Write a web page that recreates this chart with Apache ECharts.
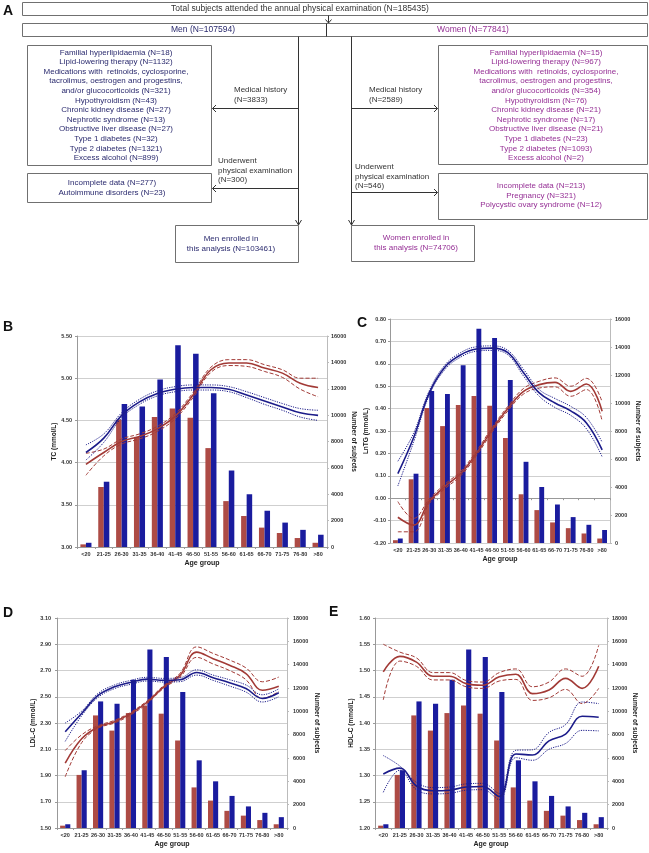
<!DOCTYPE html>
<html><head><meta charset="utf-8">
<script src="https://cdn.jsdelivr.net/npm/echarts/dist/echarts.min.js"></script>
<style>html,body{margin:0;padding:0;background:#fff}#c{width:649px;height:853px}</style>
</head><body><div id="c"></div>
<script>
// ---------- DATA ----------
const ageGroups = ['<20','21-25','26-30','31-35','36-40','41-45','46-50','51-55','56-60','61-65','66-70','71-75','76-80','>80'];
const womenCounts = [200, 4550, 9650, 8350, 9850, 10500, 9800, 7500, 3480, 2350, 1470, 1060, 680, 320];
const menCounts   = [320, 4950, 10850, 10650, 12700, 15300, 14650, 11650, 5800, 4000, 2750, 1850, 1300, 930];

// B: TC (mmol/L)
const tcMenMean    = [4.12, 4.29, 4.56, 4.72, 4.82, 4.87, 4.89, 4.89, 4.87, 4.80, 4.73, 4.66, 4.59, 4.56];
const tcMenUpper   = [4.21, 4.34, 4.59, 4.75, 4.85, 4.90, 4.92, 4.92, 4.90, 4.84, 4.77, 4.70, 4.64, 4.62];
const tcMenLower   = [4.03, 4.24, 4.53, 4.69, 4.79, 4.84, 4.86, 4.86, 4.84, 4.77, 4.69, 4.62, 4.54, 4.50];
const tcWomenMean  = [3.98, 4.12, 4.25, 4.31, 4.40, 4.55, 4.80, 5.10, 5.18, 5.18, 5.12, 5.06, 4.94, 4.89];
const tcWomenUpper = [4.11, 4.16, 4.28, 4.34, 4.43, 4.58, 4.83, 5.13, 5.22, 5.22, 5.16, 5.10, 5.00, 5.00];
const tcWomenLower = [3.85, 4.08, 4.22, 4.28, 4.37, 4.52, 4.77, 5.07, 5.15, 5.14, 5.08, 5.01, 4.87, 4.78];

// C: LnTG (mmol/L)
const tgMenMean    = [0.110, 0.270, 0.470, 0.586, 0.640, 0.666, 0.670, 0.650, 0.560, 0.470, 0.425, 0.390, 0.336, 0.216];
const tgMenUpper   = [0.165, 0.290, 0.480, 0.595, 0.650, 0.676, 0.680, 0.660, 0.575, 0.485, 0.445, 0.410, 0.360, 0.250];
const tgMenLower   = [0.055, 0.250, 0.460, 0.575, 0.630, 0.656, 0.660, 0.640, 0.545, 0.455, 0.405, 0.370, 0.310, 0.185];
const tgWomenMean  = [-0.085, -0.120, -0.014, 0.053, 0.110, 0.200, 0.306, 0.400, 0.477, 0.507, 0.517, 0.477, 0.510, 0.388];
const tgWomenUpper = [-0.015, -0.090, -0.004, 0.063, 0.120, 0.210, 0.316, 0.410, 0.490, 0.522, 0.537, 0.500, 0.535, 0.430];
const tgWomenLower = [-0.150, -0.150, -0.024, 0.043, 0.100, 0.190, 0.296, 0.390, 0.465, 0.492, 0.497, 0.455, 0.485, 0.345];

// D: LDL-C (mmol/L)
const ldlMenMean    = [2.234, 2.373, 2.510, 2.576, 2.610, 2.634, 2.626, 2.630, 2.685, 2.645, 2.606, 2.563, 2.487, 2.530];
const ldlMenUpper   = [2.300, 2.390, 2.525, 2.590, 2.625, 2.648, 2.640, 2.645, 2.705, 2.665, 2.630, 2.590, 2.515, 2.560];
const ldlMenLower   = [2.160, 2.355, 2.495, 2.562, 2.595, 2.620, 2.612, 2.615, 2.665, 2.625, 2.582, 2.536, 2.460, 2.500];
const ldlWomenMean  = [1.994, 2.180, 2.270, 2.310, 2.373, 2.460, 2.576, 2.665, 2.840, 2.790, 2.740, 2.677, 2.550, 2.580];
const ldlWomenUpper = [2.090, 2.210, 2.280, 2.320, 2.383, 2.470, 2.586, 2.680, 2.880, 2.830, 2.780, 2.720, 2.614, 2.650];
const ldlWomenLower = [1.890, 2.150, 2.260, 2.300, 2.363, 2.450, 2.566, 2.650, 2.800, 2.750, 2.700, 2.630, 2.487, 2.540];

// E: HDL-C (mmol/L)
const hdlMenMean    = [1.303, 1.314, 1.280, 1.271, 1.272, 1.278, 1.279, 1.260, 1.341, 1.339, 1.366, 1.379, 1.413, 1.411];
const hdlMenUpper   = [1.338, 1.318, 1.287, 1.277, 1.278, 1.284, 1.285, 1.266, 1.348, 1.349, 1.382, 1.397, 1.440, 1.437];
const hdlMenLower   = [1.268, 1.310, 1.273, 1.265, 1.266, 1.272, 1.273, 1.254, 1.334, 1.329, 1.350, 1.361, 1.386, 1.385];
const hdlWomenMean  = [1.4975, 1.527, 1.516, 1.489, 1.489, 1.475, 1.472, 1.488, 1.493, 1.456, 1.463, 1.485, 1.466, 1.508];
const hdlWomenUpper = [1.550, 1.535, 1.524, 1.496, 1.496, 1.481, 1.478, 1.496, 1.503, 1.469, 1.478, 1.503, 1.489, 1.548];
const hdlWomenLower = [1.444, 1.518, 1.508, 1.482, 1.482, 1.469, 1.466, 1.480, 1.483, 1.443, 1.448, 1.464, 1.437, 1.466];

// Flowchart texts
const flowTop = 'Total subjects attended the annual physical examination (N=185435)';
const menHeader = 'Men (N=107594)';
const womenHeader = 'Women (N=77841)';
const menHistory = ['Familial hyperlipidaemia (N=18)','Lipid-lowering therapy (N=1132)','Medications with  retinoids, cyclosporine,','tacrolimus, oestrogen and progestins,','and/or glucocorticoids (N=321)','Hypothyroidism (N=43)','Chronic kidney disease (N=27)','Nephrotic syndrome (N=13)','Obstructive liver disease (N=27)','Type 1 diabetes (N=32)','Type 2 diabetes (N=1321)','Excess alcohol (N=899)'];
const womenHistory = ['Familial hyperlipidaemia (N=15)','Lipid-lowering therapy (N=967)','Medications with  retinoids, cyclosporine,','tacrolimus, oestrogen and progestins,','and/or glucocorticoids (N=354)','Hypothyroidism (N=76)','Chronic kidney disease (N=21)','Nephrotic syndrome (N=17)','Obstructive liver disease (N=21)','Type 1 diabetes (N=23)','Type 2 diabetes (N=1093)','Excess alcohol (N=2)'];
const menHistoryLabel = ['Medical history','(N=3833)'];
const womenHistoryLabel = ['Medical history','(N=2589)'];
const menExamLabel = ['Underwent','physical examination','(N=300)'];
const womenExamLabel = ['Underwent','physical examination','(N=546)'];
const menExam = ['Incomplete data (N=277)','Autoimmune disorders (N=23)'];
const womenExam = ['Incomplete data (N=213)','Pregnancy (N=321)','Polycystic ovary syndrome (N=12)'];
const menEnrolled = ['Men enrolled in','this analysis (N=103461)'];
const womenEnrolled = ['Women enrolled in','this analysis (N=74706)'];

// ---------- STYLE ----------
const FONT = '"Liberation Sans", Arial, sans-serif';
const MEN_TXT = '#2a2a6e', WOMEN_TXT = '#952f95', MID_TXT = '#333';
const RED_BAR = '#ad4b45', BLUE_BAR = '#1a1c9e';
const RED_LINE = '#a23a36', BLUE_LINE = '#1c1c8a';
const BOX = '#707070', ARW = '#333';

function box(x, y, w, h) {
  return {type:'rect', shape:{x:x+0.5, y:y+0.5, width:w, height:h}, style:{fill:'#fff', stroke:BOX, lineWidth:1}};
}
function txt(lines, x, yFirst, color, align, lh, fs) {
  lh = lh || 9.6;
  return {type:'text', x:x, y:yFirst - lh/2, style:{text:lines.join('\n'), fill:color, fontSize:fs||8, fontFamily:FONT, align:align||'center', verticalAlign:'top', lineHeight:lh}};
}
function ln(x1,y1,x2,y2){ return {type:'line', shape:{x1:x1+0.5,y1:y1+0.5,x2:x2+0.5,y2:y2+0.5}, style:{stroke:ARW, lineWidth:1}}; }
function pl(pts){ return {type:'polyline', shape:{points:pts}, style:{stroke:ARW, lineWidth:1, fill:null}}; }
function letter(t, x, y){ return {type:'text', x:x, y:y, style:{text:t, fontSize:14, fontWeight:'bold', fontFamily:FONT, fill:'#111', align:'left', verticalAlign:'middle'}}; }

const graphics = [
  letter('A', 3, 11), letter('B', 3, 327), letter('C', 357, 323), letter('D', 3, 613), letter('E', 329, 612),
  box(22, 2, 625, 13), txt([flowTop], 300, 8.5, MID_TXT, 'center', 10, 8.5),
  ln(328, 15, 328, 23), pl([[325.5,19.5],[328.5,23],[331.5,19.5]]),
  box(22, 23, 625, 13), ln(326, 23, 326, 36),
  txt([menHeader], 203, 29.5, MEN_TXT, 'center', 10, 8.5), txt([womenHeader], 473, 29.5, WOMEN_TXT, 'center', 10, 8.5),
  ln(298, 36, 298, 225), pl([[295.5,220],[298.5,225],[301.5,220]]),
  ln(351, 36, 351, 225), pl([[348.5,220],[351.5,225],[354.5,220]]),
  box(27, 45, 184, 120), txt(menHistory, 116, 52.4, MEN_TXT),
  box(438, 45, 209, 119), txt(womenHistory, 546, 52.4, WOMEN_TXT),
  txt(menHistoryLabel, 234, 90, MID_TXT, 'left', 10), ln(212, 108, 298, 108), pl([[216,105],[212.5,108.5],[216,112]]),
  txt(womenHistoryLabel, 369, 90, MID_TXT, 'left', 10), ln(351, 108, 437, 108), pl([[434,105],[437.5,108.5],[434,112]]),
  txt(menExamLabel, 218, 161, MID_TXT, 'left', 9.6), ln(212, 188, 298, 188), pl([[216,185],[212.5,188.5],[216,192]]),
  txt(womenExamLabel, 355, 167, MID_TXT, 'left', 9.6), ln(351, 192, 437, 192), pl([[434,189],[437.5,192.5],[434,196]]),
  box(27, 173, 184, 29), txt(menExam, 112, 183, MEN_TXT),
  box(438, 173, 209, 46), txt(womenExam, 541, 186, WOMEN_TXT),
  box(175, 225, 123, 37), txt(menEnrolled, 231, 239, MEN_TXT, 'center', 10),
  box(351, 225, 123, 36), txt(womenEnrolled, 416, 238, WOMEN_TXT, 'center', 10)
];

// ---------- CHART PANELS ----------
const panels = [
  {grid:{left:77, top:336, width:250, height:211}, name:'TC (mmol/L)', min:3.0, max:5.5, interval:0.5, cmax:16000,
   lGap:18, lMargin:5, rGap:22, rMargin:4,
   wm:tcWomenMean, wu:tcWomenUpper, wl:tcWomenLower, mm:tcMenMean, mu:tcMenUpper, ml:tcMenLower},
  {grid:{left:390, top:319, width:220, height:224}, name:'LnTG (mmol/L)', min:-0.2, max:0.8, interval:0.1, cmax:16000,
   lGap:14, lMargin:4, rGap:20, rMargin:5,
   wm:tgWomenMean, wu:tgWomenUpper, wl:tgWomenLower, mm:tgMenMean, mu:tgMenUpper, ml:tgMenLower},
  {grid:{left:57, top:618, width:230, height:210}, name:'LDL-C (mmol/L)', min:1.5, max:3.1, interval:0.2, cmax:18000,
   lGap:20, lMargin:6, rGap:26, rMargin:6,
   wm:ldlWomenMean, wu:ldlWomenUpper, wl:ldlWomenLower, mm:ldlMenMean, mu:ldlMenUpper, ml:ldlMenLower},
  {grid:{left:375, top:618, width:232, height:210}, name:'HDL-C (mmol/L)', min:1.2, max:1.6, interval:0.05, cmax:18000,
   lGap:20, lMargin:5, rGap:24, rMargin:5,
   wm:hdlWomenMean, wu:hdlWomenUpper, wl:hdlWomenLower, mm:hdlMenMean, mu:hdlMenUpper, ml:hdlMenLower}
];

const grids = [], xAxes = [], yAxes = [], series = [];
const tickLabel = {fontSize:5.5, color:'#333', fontFamily:FONT, fontWeight:'bold'};
const nameStyle = {fontSize:6.5, color:'#222', fontFamily:FONT, fontWeight:'bold'};

panels.forEach((p, i) => {
  grids.push(Object.assign({containLabel:false, outerBoundsMode:'none'}, p.grid));
  xAxes.push({type:'category', gridIndex:i, data:ageGroups, boundaryGap:true,
    axisLine:{show:true, lineStyle:{color:'#999', width:1}},
    axisTick:{show:true, length:2, lineStyle:{color:'#999'}},
    axisLabel:Object.assign({interval:0, margin:4}, tickLabel),
    splitLine:{show:false},
    name:'Age group', nameLocation:'middle', nameGap:13, nameTextStyle:Object.assign({}, nameStyle, {fontSize:7})});
  yAxes.push({type:'value', gridIndex:i, position:'left', min:p.min, max:p.max, interval:p.interval,
    axisLine:{show:true, lineStyle:{color:'#999'}}, axisTick:{show:true, length:2, lineStyle:{color:'#999'}},
    splitLine:{show:true, lineStyle:{color:'#cfcfcf', width:1}},
    axisLabel:Object.assign({margin:p.lMargin, formatter:v => v.toFixed(2)}, tickLabel),
    name:p.name, nameLocation:'middle', nameRotate:90, nameGap:p.lGap, nameTextStyle:nameStyle});
  yAxes.push({type:'value', gridIndex:i, position:'right', min:0, max:p.cmax, interval:2000,
    axisLine:{show:true, lineStyle:{color:'#bbb'}}, axisTick:{show:true, length:2, lineStyle:{color:'#bbb'}},
    splitLine:{show:false},
    axisLabel:Object.assign({margin:p.rMargin, formatter:v => String(v)}, tickLabel),
    name:'Number of subjects', nameLocation:'middle', nameRotate:-90, nameGap:p.rGap, nameTextStyle:nameStyle});
  const ya = i*2, yb = i*2+1;
  series.push({type:'bar', xAxisIndex:i, yAxisIndex:yb, data:womenCounts, barWidth:'31%', barGap:'0%', itemStyle:{color:RED_BAR}, silent:true});
  series.push({type:'bar', xAxisIndex:i, yAxisIndex:yb, data:menCounts, barWidth:'31%', barGap:'0%', itemStyle:{color:BLUE_BAR}, silent:true});
  const line = (d, color, type, w) => ({type:'line', xAxisIndex:i, yAxisIndex:ya, data:d, smooth:0.4, symbol:'none', showSymbol:false, silent:true,
    lineStyle:{color:color, width:w, type:type}, z:3});
  series.push(line(p.wl, RED_LINE, [4,2], 1));
  series.push(line(p.wu, RED_LINE, [4,2], 1));
  series.push(line(p.wm, RED_LINE, 'solid', 1.6));
  series.push(line(p.ml, BLUE_LINE, [1.2,1.2], 1));
  series.push(line(p.mu, BLUE_LINE, [1.2,1.2], 1));
  series.push(line(p.mm, BLUE_LINE, 'solid', 1.6));
});

const chart = echarts.init(document.getElementById('c'), null, {renderer:'canvas'});
chart.setOption({
  animation:false, backgroundColor:'#fff',
  grid:grids, xAxis:xAxes, yAxis:yAxes, series:series, graphic:graphics
});
</script></body></html>
